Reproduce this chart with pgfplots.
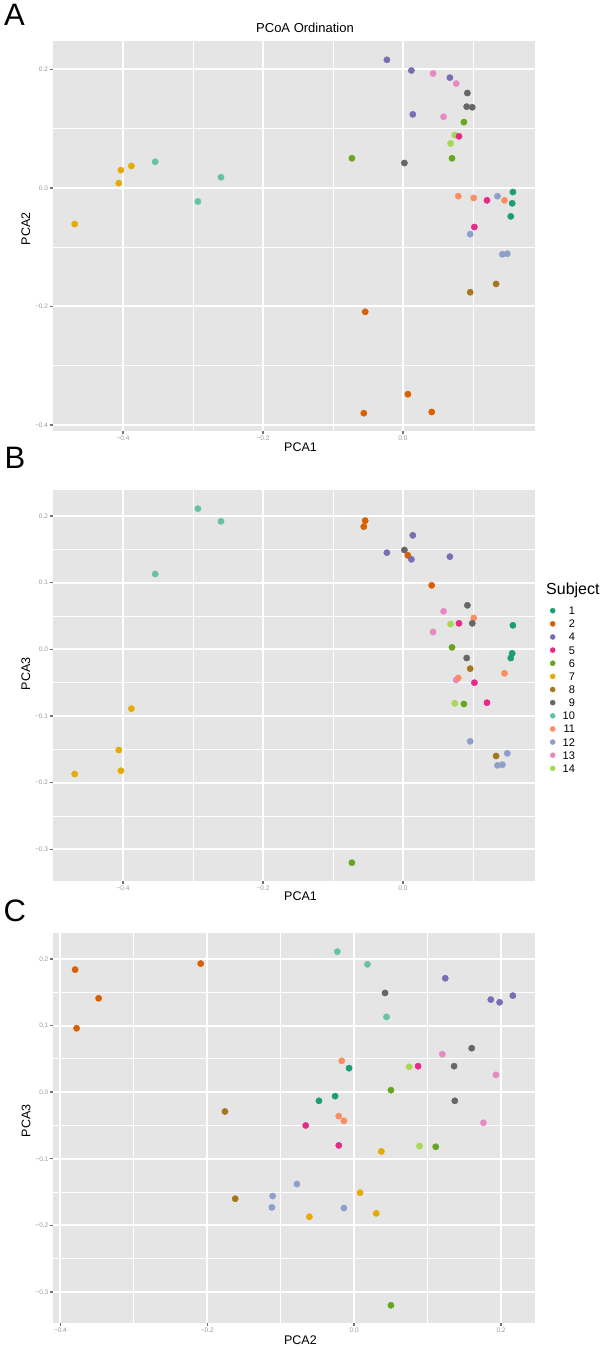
\documentclass[border=0pt]{standalone}
\usepackage{fontspec}
\setmainfont{Liberation Sans}
\usepackage{pgfplots}
\usepackage{pgfplotstable}
\pgfplotsset{compat=1.18}

\definecolor{bgc}{HTML}{E5E5E5}
\definecolor{tickc}{HTML}{727272}
\definecolor{labc}{HTML}{9A9A9A}
\definecolor{c1}{HTML}{1B9E77}
\definecolor{c2}{HTML}{D95F02}
\definecolor{c4}{HTML}{7570B3}
\definecolor{c5}{HTML}{E7298A}
\definecolor{c6}{HTML}{66A61E}
\definecolor{c7}{HTML}{E6AB02}
\definecolor{c8}{HTML}{A6761D}
\definecolor{c9}{HTML}{666666}
\definecolor{c10}{HTML}{66C2A5}
\definecolor{c11}{HTML}{FC8D62}
\definecolor{c12}{HTML}{8DA0CB}
\definecolor{c13}{HTML}{E78AC3}
\definecolor{c14}{HTML}{A6D854}

% columns: a = PCA1, b = PCA2, c = PCA3
\pgfplotstableread{
a b c
0.157 -0.007 0.036
0.156 -0.026 -0.006
0.154 -0.048 -0.013
}\sOne
\pgfplotstableread{
a b c
-0.054 -0.209 0.193
-0.056 -0.380 0.184
0.007 -0.348 0.141
0.041 -0.378 0.096
}\sTwo
\pgfplotstableread{
a b c
-0.023 0.216 0.145
0.012 0.198 0.135
0.067 0.186 0.139
0.014 0.124 0.171
}\sFour
\pgfplotstableread{
a b c
0.080 0.087 0.039
0.102 -0.066 -0.050
0.120 -0.021 -0.080
}\sFive
\pgfplotstableread{
a b c
0.087 0.111 -0.082
-0.073 0.050 -0.320
0.070 0.050 0.003
}\sSix
\pgfplotstableread{
a b c
-0.388 0.037 -0.089
-0.406 0.008 -0.151
-0.403 0.030 -0.182
-0.469 -0.061 -0.187
}\sSeven
\pgfplotstableread{
a b c
0.096 -0.176 -0.029
0.133 -0.162 -0.160
}\sEight
\pgfplotstableread{
a b c
0.002 0.042 0.149
0.092 0.160 0.066
0.099 0.136 0.039
0.091 0.137 -0.013
}\sNine
\pgfplotstableread{
a b c
-0.354 0.044 0.113
-0.260 0.018 0.192
-0.293 -0.023 0.211
}\sTen
\pgfplotstableread{
a b c
0.101 -0.017 0.047
0.145 -0.021 -0.036
0.079 -0.014 -0.043
}\sEleven
\pgfplotstableread{
a b c
0.096 -0.078 -0.138
0.135 -0.014 -0.174
0.149 -0.111 -0.156
0.142 -0.112 -0.173
}\sTwelve
\pgfplotstableread{
a b c
0.058 0.120 0.057
0.043 0.193 0.026
0.076 0.176 -0.046
}\sThirteen
\pgfplotstableread{
a b c
0.068 0.075 0.038
0.074 0.089 -0.081
}\sFourteen

\pgfplotsset{
  pcoa/.style={
    scale only axis,
    axis background/.style={fill=bgc},
    axis line style={draw=none},
    grid=both,
    major grid style={white, line width=2pt},
    minor grid style={white, line width=0.9pt},
    tick align=outside,
    xtick pos=bottom, ytick pos=left,
    major tick length=3.3pt,
    minor tick length=0pt,
    tick style={line width=1.4pt, color=tickc},
    xticklabel style={font=\fontsize{6.5}{7}\selectfont, text=labc, inner sep=0pt, anchor=north, yshift=-1.5pt},
    yticklabel style={font=\fontsize{6.5}{7}\selectfont, text=labc, inner sep=0pt, anchor=east, xshift=-1.5pt},
    label style={font=\fontsize{12.5}{13}\selectfont},
    every axis plot/.append style={only marks, mark=*, mark size=3.15pt, mark options={solid}},
    legend image code/.code={\fill[##1] (0pt,0pt) circle (2.55pt);},
  },
}

\newcommand{\plotall}[2]{%
  \addplot[c13, forget plot] table[x=#1,y=#2] {\sThirteen};
  \addplot[c14, forget plot] table[x=#1,y=#2] {\sFourteen};
  \addplot[c11, forget plot] table[x=#1,y=#2] {\sEleven};
  \addplot[c1, forget plot] table[x=#1,y=#2] {\sOne};
  \addplot[c2, forget plot] table[x=#1,y=#2] {\sTwo};
  \addplot[c4, forget plot] table[x=#1,y=#2] {\sFour};
  \addplot[c5, forget plot] table[x=#1,y=#2] {\sFive};
  \addplot[c6, forget plot] table[x=#1,y=#2] {\sSix};
  \addplot[c7, forget plot] table[x=#1,y=#2] {\sSeven};
  \addplot[c8, forget plot] table[x=#1,y=#2] {\sEight};
  \addplot[c9, forget plot] table[x=#1,y=#2] {\sNine};
  \addplot[c10, forget plot] table[x=#1,y=#2] {\sTen};
  \addplot[c12, forget plot] table[x=#1,y=#2] {\sTwelve};
}

\begin{document}
\begin{tikzpicture}
\useasboundingbox (0pt,0pt) rectangle (608pt,1348pt);

% ---------------- Panel A: PCA1 vs PCA2
\begin{axis}[pcoa,
  at={(53pt,917pt)}, anchor=south west,
  width=482pt, height=390pt,
  xmin=-0.5, xmax=0.1886, ymin=-0.410, ymax=0.2478,
  xtick={-0.4,-0.2,0}, xticklabels={−0.4,−0.2,0.0},
  minor xtick={-0.3,-0.1,0.1},
  ytick={-0.4,-0.2,0,0.2}, yticklabels={−0.4,−0.2,0.0,0.2},
  minor ytick={-0.3,-0.1,0.1},
  xlabel={PCA1}, ylabel={PCA2},
  xlabel style={at={(rel axis cs:0.5135,-0.0531)}, anchor=base},
  ylabel style={at={(rel axis cs:-0.0477,0.518)}, anchor=base},
  title={PCoA Ordination},
  title style={at={(rel axis cs:0.5228,1.0069)}, anchor=base, font=\fontsize{13}{14}\selectfont},
]
\plotall{a}{b}
\end{axis}

% ---------------- Panel B: PCA1 vs PCA3
\begin{axis}[pcoa,
  at={(53pt,467.3pt)}, anchor=south west,
  width=482pt, height=390.7pt,
  xmin=-0.5, xmax=0.1886, ymin=-0.347, ymax=0.239,
  xtick={-0.4,-0.2,0}, xticklabels={−0.4,−0.2,0.0},
  minor xtick={-0.3,-0.1,0.1},
  ytick={-0.3,-0.2,-0.1,0,0.1,0.2}, yticklabels={−0.3,−0.2,−0.1,0.0,0.1,0.2},
  minor ytick={-0.25,-0.15,-0.05,0.05,0.15},
  xlabel={PCA1}, ylabel={PCA3},
  xlabel style={at={(rel axis cs:0.5135,-0.0512)}, anchor=base},
  ylabel style={at={(rel axis cs:-0.0477,0.529)}, anchor=base},
  legend cell align=right,
  legend style={at={(rel axis cs:1.0310,0.7079)}, anchor=north west,
    draw=none, fill=none, inner sep=0pt, outer sep=0pt,
    column sep=7.25pt, row sep=0pt,
    nodes={inner sep=0pt, text height=10.52pt, text depth=2.62pt, font=\fontsize{11}{11}\selectfont}},
]
\plotall{a}{c}
\addlegendimage{c1}\addlegendentry{1}
\addlegendimage{c2}\addlegendentry{2}
\addlegendimage{c4}\addlegendentry{4}
\addlegendimage{c5}\addlegendentry{5}
\addlegendimage{c6}\addlegendentry{6}
\addlegendimage{c7}\addlegendentry{7}
\addlegendimage{c8}\addlegendentry{8}
\addlegendimage{c9}\addlegendentry{9}
\addlegendimage{c10}\addlegendentry{10}
\addlegendimage{c11}\addlegendentry{11}
\addlegendimage{c12}\addlegendentry{12}
\addlegendimage{c13}\addlegendentry{13}
\addlegendimage{c14}\addlegendentry{14}
\end{axis}

% ---------------- Panel C: PCA2 vs PCA3
\begin{axis}[pcoa,
  at={(53.3pt,25pt)}, anchor=south west,
  width=481.7pt, height=390pt,
  xmin=-0.4097, xmax=0.2462, ymin=-0.3466, ymax=0.239,
  xtick={-0.4,-0.2,0,0.2}, xticklabels={−0.4,−0.2,0.0,0.2},
  minor xtick={-0.3,-0.1,0.1},
  ytick={-0.3,-0.2,-0.1,0,0.1,0.2}, yticklabels={−0.3,−0.2,−0.1,0.0,0.1,0.2},
  minor ytick={-0.25,-0.15,-0.05,0.05,0.15},
  xlabel={PCA2}, ylabel={PCA3},
  xlabel style={at={(rel axis cs:0.513,-0.0564)}, anchor=base},
  ylabel style={at={(rel axis cs:-0.0478,0.518)}, anchor=base},
]
\plotall{b}{c}
\end{axis}

% legend title and panel letters
\node[anchor=base west, inner sep=0pt, font=\fontsize{16}{17}\selectfont] at (546pt,753pt) {Subject};
\node[anchor=north west, inner sep=0pt, font=\fontsize{31}{31}\selectfont] at (4pt,1344pt) {A};
\node[anchor=north west, inner sep=0pt, font=\fontsize{31}{31}\selectfont] at (4.5pt,901pt) {B};
\node[anchor=north west, inner sep=0pt, font=\fontsize{31}{31}\selectfont] at (3.5pt,448.5pt) {C};
\end{tikzpicture}
\end{document}
